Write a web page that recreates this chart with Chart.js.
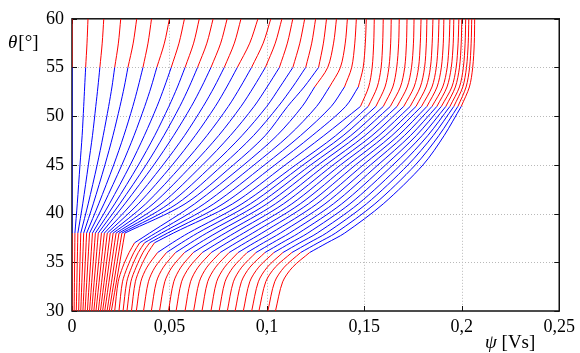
<!DOCTYPE html>
<html>
<head>
<meta charset="utf-8">
<script src="https://cdn.jsdelivr.net/npm/chart.js@4.4.1/dist/chart.umd.min.js"></script>
<style>
  body { margin: 0; background: #fff; }
  #wrap { width: 580px; height: 353px; }
</style>
</head>
<body>
<div id="wrap"><canvas id="psiChart" width="580" height="353"></canvas></div>
<script>
var thetaLevels = [30, 33, 34.5, 36, 37, 38, 41, 45, 48, 51, 53, 55, 57.5, 60];

// flux linkage psi [Vs] of the 42 curves at each level (null = not read there)
var psi30 = [0, 0.0011, 0.0022, 0.0034, 0.0045, 0.0056, 0.0067, 0.0079, 0.0090, 0.0101,
  0.0112, 0.0123, 0.0135, 0.0146, 0.0157, 0.0168, 0.0180, 0.0191, 0.0202, 0.0219,
  0.0241, 0.0262, 0.0282, 0.0305, 0.0330, 0.0367, 0.0407, 0.0449, 0.0495, 0.0534,
  0.0580, 0.0624, 0.0667, 0.0713, 0.0755, 0.0797, 0.0837, 0.0879, 0.0922, 0.0959,
  0.1005, 0.1044];
var psi33 = [null, null, null, null, null, null, null, null, null, null,
  null, null, null, null, null, null, null, null, null, 0.0237,
  0.0259, 0.0281, 0.0302, 0.0325, 0.0353, 0.0392, 0.0433, 0.0476, 0.0522, 0.0562,
  0.0608, 0.0653, 0.0696, 0.0742, 0.0785, 0.0828, 0.0869, 0.0912, 0.0956, 0.0994,
  0.1040, 0.1081];
var psi345 = [null, null, null, null, null, null, null, null, null, null,
  null, null, null, null, null, null, null, null, null, 0.0260,
  0.0284, 0.0306, 0.0329, 0.0352, 0.0385, 0.0426, 0.0469, 0.0513, 0.0559, 0.0602,
  0.0647, 0.0692, 0.0737, 0.0783, 0.0827, 0.0871, 0.0913, 0.0958, 0.1002, 0.1043,
  0.1089, 0.1132];
var psi36 = [null, null, null, null, null, null, null, null, null, null,
  null, null, null, null, null, null, null, null, null, 0.0293,
  0.0317, 0.0340, 0.0364, 0.0390, 0.0439, 0.0485, 0.0531, 0.0577, 0.0622, 0.0668,
  0.0714, 0.0760, 0.0806, 0.0852, 0.0898, 0.0944, 0.0990, 0.1036, 0.1082, 0.1128,
  0.1173, 0.1219];
var psi37 = [null, null, null, null, null, null, null, null, null, null,
  null, null, null, null, null, null, null, null, null, 0.0321,
  0.0347, 0.0372, 0.0398, 0.0423, 0.0515, 0.0562, 0.0609, 0.0655, 0.0702, 0.0749,
  0.0795, 0.0842, 0.0889, 0.0935, 0.0982, 0.1029, 0.1076, 0.1122, 0.1169, 0.1216,
  0.1262, 0.1309];
var psi38 = [0, 0.0015, 0.0030, 0.0045, 0.0060, 0.0075, 0.0090, 0.0105, 0.0120, 0.0135,
  0.0151, 0.0166, 0.0181, 0.0196, 0.0211, 0.0226, 0.0241, 0.0256, 0.0271, 0.0398,
  0.0429, 0.0459, 0.0490, 0.0520, 0.0597, 0.0644, 0.0691, 0.0739, 0.0786, 0.0833,
  0.0880, 0.0927, 0.0974, 0.1022, 0.1069, 0.1116, 0.1163, 0.1210, 0.1258, 0.1305,
  0.1352, 0.1399];
var psi41 = [0, 0.0027, 0.0055, 0.0083, 0.0109, 0.0137, 0.0164, 0.0192, 0.0219, 0.0245,
  0.0271, 0.0306, 0.0340, 0.0378, 0.0416, 0.0457, 0.0497, 0.0538, 0.0580, 0.0629,
  0.0678, 0.0727, 0.0775, 0.0824, 0.0872, 0.0915, 0.0958, 0.1000, 0.1043, 0.1085,
  0.1128, 0.1171, 0.1213, 0.1256, 0.1298, 0.1341, 0.1384, 0.1426, 0.1469, 0.1511,
  0.1554, 0.1597];
var psi45 = [0, 0.0041, 0.0084, 0.0129, 0.0169, 0.0214, 0.0256, 0.0299, 0.0341, 0.0380,
  0.0420, 0.0467, 0.0515, 0.0566, 0.0617, 0.0670, 0.0722, 0.0774, 0.0828, 0.0881,
  0.0934, 0.0988, 0.1041, 0.1094, 0.1148, 0.1186, 0.1225, 0.1263, 0.1302, 0.1340,
  0.1378, 0.1417, 0.1455, 0.1494, 0.1532, 0.1570, 0.1609, 0.1647, 0.1686, 0.1724,
  0.1762, 0.1801];
var psi48 = [0, 0.0052, 0.0105, 0.0160, 0.0210, 0.0266, 0.0318, 0.0371, 0.0424, 0.0471,
  0.0521, 0.0577, 0.0632, 0.0692, 0.0752, 0.0812, 0.0872, 0.0931, 0.0991, 0.1051,
  0.1112, 0.1172, 0.1232, 0.1292, 0.1353, 0.1391, 0.1430, 0.1466, 0.1503, 0.1539,
  0.1574, 0.1608, 0.1641, 0.1674, 0.1705, 0.1736, 0.1766, 0.1796, 0.1825, 0.1853,
  0.1882, 0.1909];
var psi51 = [0, 0.0060, 0.0122, 0.0188, 0.0246, 0.0312, 0.0373, 0.0436, 0.0497, 0.0553,
  0.0612, 0.0673, 0.0735, 0.0802, 0.0867, 0.0934, 0.0999, 0.1058, 0.1106, 0.1181,
  0.1255, 0.1330, 0.1404, 0.1480, 0.1520, 0.1559, 0.1597, 0.1633, 0.1668, 0.1702,
  0.1735, 0.1765, 0.1793, 0.1821, 0.1847, 0.1872, 0.1895, 0.1918, 0.1939, 0.1959,
  0.1980, 0.1997];
var psi53 = [0, 0.0065, 0.0133, 0.0205, 0.0268, 0.0339, 0.0406, 0.0474, 0.0541, 0.0601,
  0.0665, 0.0730, 0.0794, 0.0864, 0.0932, 0.1001, 0.1067, 0.1132, 0.1191, 0.1245,
  0.1321, 0.1398, 0.1469, 0.1522, 0.1566, 0.1606, 0.1646, 0.1685, 0.1720, 0.1755,
  0.1787, 0.1817, 0.1847, 0.1873, 0.1902, 0.1924, 0.1949, 0.1967, 0.1988, 0.2005,
  0.2022, 0.2039];
var psi55 = [0, 0.0070, 0.0143, 0.0219, 0.0287, 0.0364, 0.0435, 0.0509, 0.0580, 0.0644,
  0.0713, 0.0781, 0.0848, 0.0921, 0.0992, 0.1064, 0.1133, 0.1199, 0.1265, 0.1312,
  0.1377, 0.1435, 0.1494, 0.1540, 0.1586, 0.1626, 0.1666, 0.1707, 0.1742, 0.1778,
  0.1809, 0.1839, 0.1869, 0.1895, 0.1925, 0.1946, 0.1971, 0.1988, 0.2008, 0.2024,
  0.2040, 0.2056];
var psi575 = [0, 0.0077, 0.0155, 0.0238, 0.0314, 0.0390, 0.0474, 0.0549, 0.0624, 0.0692,
  0.0763, 0.0833, 0.0912, 0.0981, 0.1043, 0.1105, 0.1169, 0.1230, 0.1290, 0.1342,
  0.1402, 0.1451, 0.1505, 0.1548, 0.1594, 0.1635, 0.1676, 0.1716, 0.1752, 0.1787,
  0.1818, 0.1848, 0.1879, 0.1905, 0.1935, 0.1956, 0.1981, 0.1997, 0.2017, 0.2033,
  0.2048, 0.2064];
var psi60 = [0, 0.0082, 0.0163, 0.0250, 0.0332, 0.0408, 0.0500, 0.0577, 0.0653, 0.0724,
  0.0796, 0.0867, 0.0954, 0.1020, 0.1077, 0.1133, 0.1194, 0.1250, 0.1306, 0.1357,
  0.1413, 0.1459, 0.1510, 0.1551, 0.1597, 0.1638, 0.1679, 0.1719, 0.1755, 0.1791,
  0.1821, 0.1852, 0.1883, 0.1908, 0.1939, 0.1959, 0.1985, 0.2000, 0.2020, 0.2036,
  0.2051, 0.2066];

// each curve is blue between these two angles and red outside them
var lowerSwitch = [38, 38, 38, 38, 38, 38, 38, 38, 38, 38, 38, 38, 38, 38, 38, 38, 38, 38, 38,
  37, 37, 37, 37, 37,
  36, 36, 36, 36, 36, 36, 36, 36, 36, 36, 36, 36, 36, 36, 36, 36, 36, 36];
var upperSwitch = [55, 55, 55, 55, 55, 55, 55, 55, 55, 55, 55, 55, 55, 55, 55, 55, 55, 55, 55,
  53, 53, 53, 53,
  51, 51, 51, 51, 51, 51, 51, 51, 51, 51, 51, 51, 51, 51, 51, 51, 51, 51, 51];

var xTickValues = [0, 0.05, 0.1, 0.15, 0.2, 0.25];
var xTickLabels = ['0', '0,05', '0,1', '0,15', '0,2', '0,25'];
var yTickValues = [30, 35, 40, 45, 50, 55, 60];
var yTickLabels = ['30', '35', '40', '45', '50', '55', '60'];

var RED = '#ff0000';
var BLUE = '#0000ff';
var FONT = '"Liberation Serif", "Times New Roman", serif';

var psiTable = [psi30, psi33, psi345, psi36, psi37, psi38, psi41, psi45, psi48, psi51,
  psi53, psi55, psi575, psi60];

function piece(pts, color) {
  return {
    data: pts,
    borderColor: color,
    borderWidth: 1,
    pointRadius: 0,
    tension: 0.3,
    fill: false
  };
}

// every curve is drawn as red / blue / red pieces that meet at the switch angles
var datasets = [];
for (var k = 0; k < lowerSwitch.length; k++) {
  var low = [], mid = [], high = [];
  for (var j = 0; j < thetaLevels.length; j++) {
    var v = psiTable[j][k];
    if (v === null) continue;
    var t = thetaLevels[j];
    var p = { x: v, y: t };
    if (t <= lowerSwitch[k]) low.push(p);
    if (t >= lowerSwitch[k] && t <= upperSwitch[k]) mid.push(p);
    if (t >= upperSwitch[k]) high.push(p);
  }
  datasets.push(piece(low, RED));
  datasets.push(piece(mid, BLUE));
  datasets.push(piece(high, RED));
}

// dotted grid, box and inward ticks like the original figure
var framePlugin = {
  id: 'frame',
  beforeDatasetsDraw: function (chart) {
    var ctx = chart.ctx;
    var a = chart.chartArea;
    var xs = chart.scales.x;
    var ys = chart.scales.y;
    var i, p;
    ctx.save();
    ctx.lineWidth = 1;
    ctx.strokeStyle = '#b9b9b9';
    ctx.setLineDash([1, 2]);
    for (i = 1; i < xTickValues.length - 1; i++) {
      p = Math.round(xs.getPixelForValue(xTickValues[i])) + 0.5;
      ctx.beginPath();
      ctx.moveTo(p, a.top);
      ctx.lineTo(p, a.bottom);
      ctx.stroke();
    }
    for (i = 1; i < yTickValues.length - 1; i++) {
      p = Math.round(ys.getPixelForValue(yTickValues[i])) + 0.5;
      ctx.beginPath();
      ctx.moveTo(a.left, p);
      ctx.lineTo(a.right, p);
      ctx.stroke();
    }
    ctx.setLineDash([]);
    ctx.strokeStyle = '#111';
    ctx.lineWidth = 1.5;
    ctx.strokeRect(a.left, a.top, a.right - a.left, a.bottom - a.top);
    ctx.lineWidth = 1;
    for (i = 0; i < xTickValues.length; i++) {
      p = Math.round(xs.getPixelForValue(xTickValues[i])) + 0.5;
      ctx.beginPath();
      ctx.moveTo(p, a.bottom);
      ctx.lineTo(p, a.bottom - 5);
      ctx.moveTo(p, a.top);
      ctx.lineTo(p, a.top + 5);
      ctx.stroke();
    }
    for (i = 0; i < yTickValues.length; i++) {
      p = Math.round(ys.getPixelForValue(yTickValues[i])) + 0.5;
      ctx.beginPath();
      ctx.moveTo(a.left, p);
      ctx.lineTo(a.left + 5, p);
      ctx.moveTo(a.right, p);
      ctx.lineTo(a.right - 5, p);
      ctx.stroke();
    }
    ctx.restore();
  },
  afterDraw: function (chart) {
    var ctx = chart.ctx;
    ctx.save();
    ctx.fillStyle = '#000';
    ctx.textBaseline = 'alphabetic';
    ctx.textAlign = 'left';
    ctx.font = 'italic 19px ' + FONT;
    ctx.fillText('\u03b8', 8, 48);
    var w = ctx.measureText('\u03b8').width;
    ctx.font = '19px ' + FONT;
    ctx.fillText('[\u00b0]', 8 + w + 1, 48);
    ctx.font = 'italic 19px ' + FONT;
    ctx.fillText('\u03c8', 485, 348);
    w = ctx.measureText('\u03c8').width;
    ctx.font = '19px ' + FONT;
    ctx.fillText(' [Vs]', 485 + w, 348);
    ctx.restore();
  }
};

new Chart(document.getElementById('psiChart'), {
  type: 'line',
  data: { datasets: datasets },
  options: {
    responsive: false,
    animation: false,
    devicePixelRatio: 1,
    layout: { padding: { top: 18, right: 18, left: 0, bottom: 0 } },
    plugins: {
      legend: { display: false },
      tooltip: { enabled: false }
    },
    scales: {
      x: {
        type: 'linear',
        min: 0,
        max: 0.25,
        grid: { display: false, drawTicks: false },
        border: { display: false },
        afterBuildTicks: function (scale) {
          scale.ticks = xTickValues.map(function (v) { return { value: v }; });
        },
        afterFit: function (scale) { scale.height = 42; },
        ticks: {
          autoSkip: false,
          maxRotation: 0,
          padding: 5,
          color: '#000',
          font: { family: FONT, size: 18 },
          callback: function (value, index) { return xTickLabels[index]; }
        }
      },
      y: {
        type: 'linear',
        min: 30,
        max: 60,
        grid: { display: false, drawTicks: false },
        border: { display: false },
        afterBuildTicks: function (scale) {
          scale.ticks = yTickValues.map(function (v) { return { value: v }; });
        },
        afterFit: function (scale) { scale.width = 72; },
        ticks: {
          autoSkip: false,
          padding: 8,
          color: '#000',
          font: { family: FONT, size: 18 },
          callback: function (value, index) { return yTickLabels[index]; }
        }
      }
    }
  },
  plugins: [framePlugin]
});
</script>
</body>
</html>
